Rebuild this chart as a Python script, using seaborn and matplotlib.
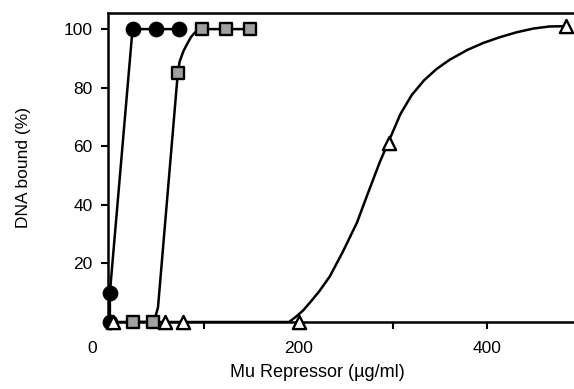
import numpy as np
import pandas as pd
import matplotlib
matplotlib.use("Agg")
import matplotlib.pyplot as plt
import matplotlib.transforms as mtransforms
import seaborn as sns

# marker values (x in ug/ml, y in % DNA bound)
circle_x = [0, 0, 24, 49, 73]
circle_y = [0, 10, 100, 100, 100]

square_x = [24, 46, 72, 98, 123, 149]
square_y = [0, 0, 85, 100, 100, 100]

triangle_x = [3, 58, 78, 200, 296, 483]
triangle_y = [0, 0, 0, 0, 61, 101]

# fitted curves
square_curve_x = [24, 46, 48, 51, 72, 74, 78, 82, 86, 90, 94, 98, 123, 149]
square_curve_y = [0, 0, 1.5, 5, 85, 89, 92.5, 95, 97.3, 98.8, 99.6, 100, 100, 100]

triangle_curve_x = [3, 190, 198, 205, 212, 222, 233, 247, 262, 273, 286, 296,
                    308, 320, 333, 346, 360, 379, 396, 414, 431, 449, 466, 483]
triangle_curve_y = [0, 0, 2, 4, 6.6, 10.5, 15.5, 24, 34, 43.5, 54.5, 62,
                    71, 77.5, 82.5, 86.3, 89.5, 92.9, 95.3, 97.3, 98.9, 100.2,
                    100.9, 101]

x_ticks = [0, 100, 200, 300, 400]
x_tick_labels = ["0", "", "200", "", "400"]
y_ticks = [20, 40, 60, 80, 100]

sns.set_theme(style="ticks")
plt.rcParams['font.family'] = ['Liberation Sans', 'DejaVu Sans']

fig = plt.figure(figsize=(5.74, 3.89), dpi=100)
ax = fig.add_axes([108 / 574, 1 - 322 / 389, 1 - 108 / 574, (322 - 13) / 389])

# curves
line_kw = dict(color="black", lw=1.8, sort=False, estimator=None)
sns.lineplot(x=circle_x, y=circle_y, ax=ax, **line_kw)
sns.lineplot(x=square_curve_x, y=square_curve_y, ax=ax, **line_kw)
sns.lineplot(x=triangle_curve_x, y=triangle_curve_y, ax=ax, **line_kw)

# markers
sns.scatterplot(x=circle_x, y=circle_y, ax=ax, marker="o", s=110, color="black",
                edgecolor="black", zorder=5, clip_on=False)
sns.scatterplot(x=square_x, y=square_y, ax=ax, marker="s", s=65, color="#a0a0a0",
                edgecolor="black", linewidth=1.7, zorder=5, clip_on=False)
sns.scatterplot(x=triangle_x, y=triangle_y, ax=ax, marker="^", s=90, color="white",
                edgecolor="black", linewidth=1.7, zorder=6, clip_on=False)

ax.set_xlim(-2, 492)
ax.set_ylim(0, 105.5)
ax.set_xticks(x_ticks)
ax.set_xticklabels(x_tick_labels)
ax.set_yticks(y_ticks)

for side in ["left", "bottom", "top"]:
    ax.spines[side].set_linewidth(1.8)
    ax.spines[side].set_color("black")
ax.spines["right"].set_visible(False)

ax.tick_params(axis="both", direction="out", length=5, width=1.5, colors="black",
               labelsize=12.5, pad=6)
ax.tick_params(axis="x", pad=9)

# the "0" label sits a bit left of the axis origin in the original
offset = mtransforms.ScaledTranslation(-0.18, 0, fig.dpi_scale_trans)
lbl0 = ax.get_xticklabels()[0]
lbl0.set_transform(lbl0.get_transform() + offset)

ax.set_xlabel("Mu Repressor (\u00b5g/ml)", fontsize=13, color="black")
ax.set_ylabel("DNA bound (%)", fontsize=12.5, color="black")
ax.xaxis.set_label_coords(0.449, -0.135)
ax.yaxis.set_label_coords(-0.165, 0.5)

fig.savefig("out.png", dpi=100)
plt.close(fig)
